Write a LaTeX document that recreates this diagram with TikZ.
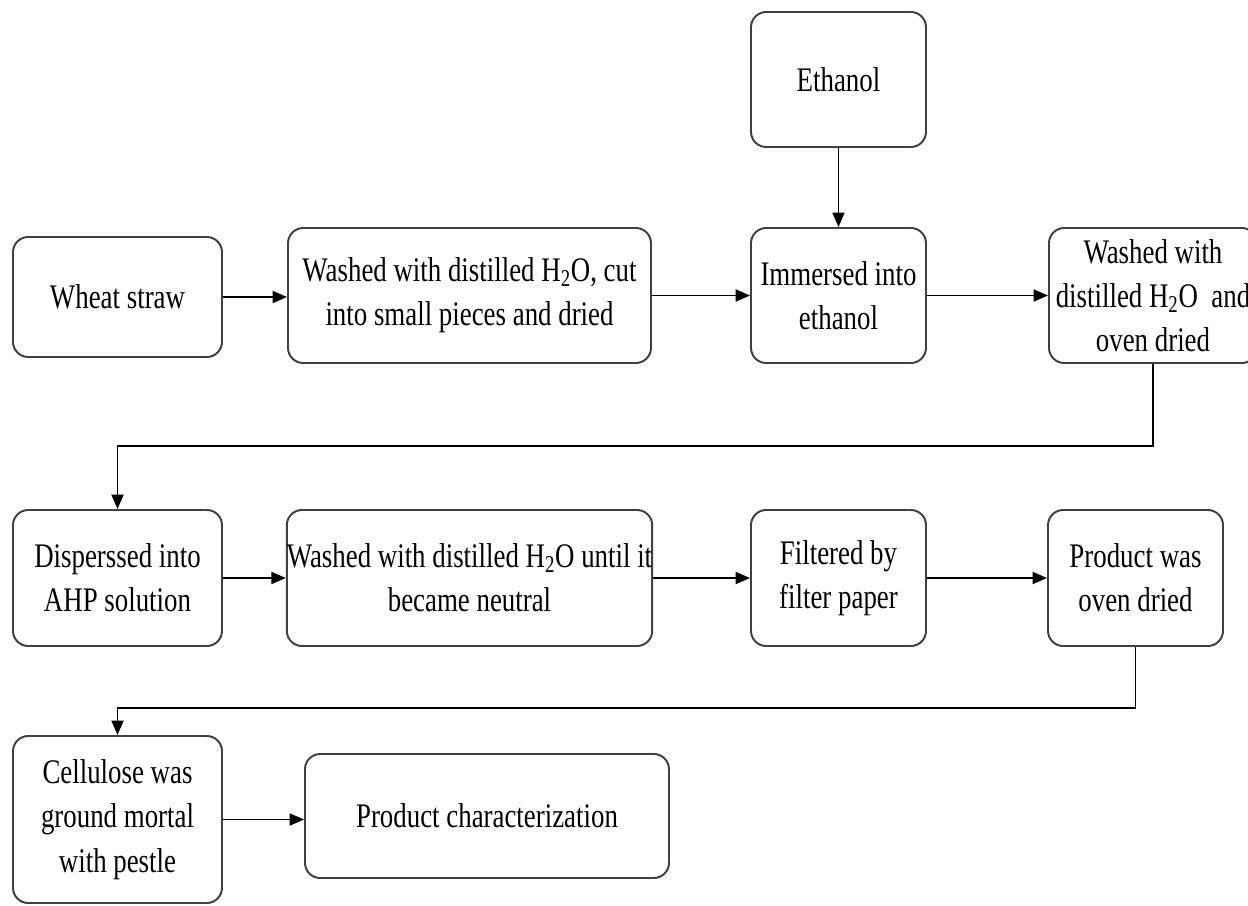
\documentclass[tikz,border=0pt]{standalone}
\usepackage{fontspec}
\setmainfont{Liberation Serif}[FakeStretch=0.78]
\usepackage{tikz}
\usetikzlibrary{arrows.meta}

\begin{document}
\begin{tikzpicture}[
  stepbox/.style={draw=black!75, line width=1.4pt, rounded corners=0.38cm, align=center,
    inner sep=0pt, font=\fontsize{24.5pt}{31.5pt}\selectfont},
  flow/.style={line width=1.3pt, -{Triangle[length=0.36cm,width=0.3cm]}}]
	\useasboundingbox (0,0) rectangle (31.2,-22.625);
	\node[stepbox, minimum width=5.225cm, minimum height=3cm] (straw) at (2.9375cm,-7.425cm) {Wheat straw};
	\node[stepbox, minimum width=9.075cm, minimum height=3.375cm] (wash1) at (11.7375cm,-7.3875cm) {Washed with distilled H\textsubscript{2}O, cut\\into small pieces and dried};
	\node[stepbox, minimum width=4.375cm, minimum height=3.375cm] (ethanol) at (20.9625cm,-1.9875cm) {Ethanol};
	\node[stepbox, minimum width=4.375cm, minimum height=3.375cm] (immerse) at (20.9625cm,-7.3875cm) {Immersed into\\ethanol};
	\node[stepbox, minimum width=5.2cm, minimum height=3.375cm] (wash2) at (28.825cm,-7.3875cm) {Washed with\\distilled H\textsubscript{2}O~ and\\oven dried};
	\node[stepbox, minimum width=5.225cm, minimum height=3.4cm] (disperse) at (2.9375cm,-14.45cm) {Disperssed into\\AHP solution};
	\node[stepbox, minimum width=9.075cm, minimum height=3.4cm] (wash3) at (11.7375cm,-14.45cm) {Washed with distilled H\textsubscript{2}O until it\\became neutral};
	\node[stepbox, minimum width=4.375cm, minimum height=3.4cm] (filter) at (20.9625cm,-14.45cm) {Filtered by\\filter paper};
	\node[stepbox, minimum width=4.375cm, minimum height=3.4cm] (oven) at (28.3875cm,-14.45cm) {Product was\\oven dried};
	\node[stepbox, minimum width=5.225cm, minimum height=4.175cm] (grind) at (2.9375cm,-20.4875cm) {Cellulose was\\ground mortal\\with pestle};
	\node[stepbox, minimum width=9.1cm, minimum height=3.1cm] (charact) at (12.175cm,-20.4cm) {Product characterization};
	\draw[flow] (straw.east) -- (straw.east -| wash1.west);
	\draw[flow] (wash1) -- (immerse);
	\draw[flow] (ethanol) -- (immerse);
	\draw[flow] (immerse) -- (wash2);
	\draw[flow] (wash2.south) -- ++(0,-2.05) -| (disperse.north);
	\draw[flow] (disperse) -- (wash3);
	\draw[flow] (wash3) -- (filter);
	\draw[flow] (filter) -- (oven);
	\draw[flow] (oven.south) -- ++(0,-1.525) -| (grind.north);
	\draw[flow] (grind.east) -- (grind.east -| charact.west);
\end{tikzpicture}
\end{document}
